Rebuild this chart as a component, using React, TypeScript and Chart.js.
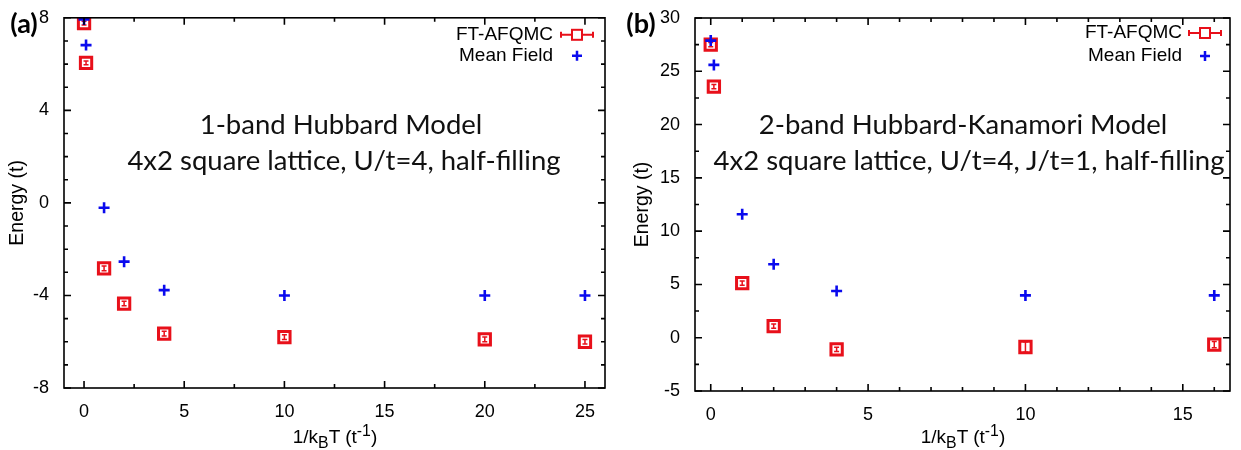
import React, { useEffect, useRef } from "react";
import { Chart, registerables } from "chart.js";
Chart.register(...registerables);

// ---------- Panel (a): 1-band Hubbard model ----------
const betaA = [0, 0.1, 1, 2, 4, 10, 20, 25];
const afqmcA = [7.77, 6.05, -2.83, -4.35, -5.65, -5.8, -5.9, -6.0];
const afqmcErrA = [0.08, 0.08, 0.1, 0.1, 0.1, 0.1, 0.1, 0.1];
const meanFieldA = [7.93, 6.82, -0.21, -2.54, -3.77, -4.0, -4.0, -4.0];
const xTicksA = [0, 5, 10, 15, 20, 25];
const yTicksA = [-8, -4, 0, 4, 8];

// ---------- Panel (b): 2-band Hubbard-Kanamori model ----------
const betaB = [0, 0.1, 1, 2, 4, 10, 16];
const afqmcB = [27.5, 23.56, 5.12, 1.09, -1.09, -0.87, -0.65];
const afqmcErrB = [0.2, 0.2, 0.2, 0.2, 0.2, 0.5, 0.3];
const meanFieldB = [27.88, 25.6, 11.58, 6.9, 4.38, 3.97, 3.97];
const xTicksB = [0, 5, 10, 15];
const yTicksB = [-5, 0, 5, 10, 15, 20, 25, 30];

const seriesNames = ["FT-AFQMC", "Mean Field"];
const RED = "#e8101a";
const BLUE = "#0a0aee";
const AXIS_FONT = "'Liberation Sans', Arial, sans-serif";
const NOTE_FONT = "Lato, 'Open Sans', sans-serif";

const framePlugin = {
  id: "frame",
  afterDraw(chart: any, _args: any, opts: any) {
    const { ctx, chartArea: a, scales } = chart;
    const x = scales.x;
    const y = scales.y;
    ctx.save();
    ctx.strokeStyle = "#000";
    ctx.lineWidth = 1.6;
    const drawTicks = (axis: any, step: number, majors: number[], horiz: boolean) => {
      const start = Math.ceil(axis.min / step) * step;
      for (let v = start; v <= axis.max + 1e-9; v += step) {
        const isMajor = majors.some((m) => Math.abs(m - v) < 1e-6);
        const len = isMajor ? 7 : 4;
        const p = axis.getPixelForValue(v);
        ctx.beginPath();
        if (horiz) {
          ctx.moveTo(p, a.bottom);
          ctx.lineTo(p, a.bottom - len);
          ctx.moveTo(p, a.top);
          ctx.lineTo(p, a.top + len);
        } else {
          ctx.moveTo(a.left, p);
          ctx.lineTo(a.left + len, p);
          ctx.moveTo(a.right, p);
          ctx.lineTo(a.right - len, p);
        }
        ctx.stroke();
      }
    };
    drawTicks(x, opts.xMinor, opts.xMajor, true);
    drawTicks(y, opts.yMinor, opts.yMajor, false);
    ctx.strokeRect(a.left, a.top, a.right - a.left, a.bottom - a.top);
    ctx.restore();
  },
};

const errorBarPlugin = {
  id: "errbars",
  beforeDatasetsDraw(chart: any, _args: any, opts: any) {
    const { ctx, scales } = chart;
    const ds = chart.data.datasets[0];
    ctx.save();
    ctx.strokeStyle = RED;
    ctx.lineWidth = 1.5;
    ds.data.forEach((pt: any, i: number) => {
      const e = opts.errors[i];
      const px = scales.x.getPixelForValue(pt.x);
      const y1 = scales.y.getPixelForValue(pt.y - e);
      const y2 = scales.y.getPixelForValue(pt.y + e);
      ctx.beginPath();
      ctx.moveTo(px, y1);
      ctx.lineTo(px, y2);
      ctx.moveTo(px - 2.5, y1);
      ctx.lineTo(px + 2.5, y1);
      ctx.moveTo(px - 2.5, y2);
      ctx.lineTo(px + 2.5, y2);
      ctx.stroke();
    });
    ctx.restore();
  },
};

const legendPlugin = {
  id: "insideLegend",
  afterDraw(chart: any, _args: any, opts: any) {
    const { ctx, chartArea: a } = chart;
    const textRight = a.right - opts.textOffset;
    const sx = a.right - opts.symOffset;
    const y1 = a.top + opts.row1;
    const y2 = a.top + opts.row2;
    ctx.save();
    ctx.font = `19px ${AXIS_FONT}`;
    ctx.fillStyle = "#000";
    ctx.textAlign = "right";
    ctx.textBaseline = "middle";
    ctx.fillText(seriesNames[0], textRight, y1);
    ctx.fillText(seriesNames[1], textRight, y2);
    // FT-AFQMC symbol: horizontal error bar with square
    ctx.strokeStyle = RED;
    ctx.lineWidth = 2;
    ctx.beginPath();
    ctx.moveTo(sx - 16, y1);
    ctx.lineTo(sx + 16, y1);
    ctx.moveTo(sx - 16, y1 - 3);
    ctx.lineTo(sx - 16, y1 + 3);
    ctx.moveTo(sx + 16, y1 - 3);
    ctx.lineTo(sx + 16, y1 + 3);
    ctx.stroke();
    ctx.fillStyle = "#fff";
    ctx.fillRect(sx - 5, y1 - 5, 10, 10);
    ctx.strokeRect(sx - 5, y1 - 5, 10, 10);
    // Mean field symbol
    ctx.strokeStyle = BLUE;
    ctx.lineWidth = 2.5;
    ctx.beginPath();
    ctx.moveTo(sx - 5, y2);
    ctx.lineTo(sx + 5, y2);
    ctx.moveTo(sx, y2 - 5);
    ctx.lineTo(sx, y2 + 5);
    ctx.stroke();
    ctx.restore();
  },
};

type PanelProps = {
  width: number;
  betas: number[];
  afqmc: number[];
  errs: number[];
  mf: number[];
  xTicks: number[];
  yTicks: number[];
  xMin: number;
  xMax: number;
  xMinor: number;
  yMinor: number;
  yAxisWidth: number;
  xAxisHeight: number;
  pad: { top: number; right: number };
  yTitlePad: number;
  legend: { textOffset: number; symOffset: number; row1: number; row2: number };
};

function Panel(p: PanelProps) {
  const ref = useRef<HTMLCanvasElement | null>(null);
  useEffect(() => {
    if (!ref.current) return;
    const chart = new Chart(ref.current, {
      type: "scatter",
      data: {
        datasets: [
          {
            label: seriesNames[0],
            data: p.betas.map((b, i) => ({ x: b, y: p.afqmc[i] })),
            pointStyle: "rect",
            pointRadius: 8,
            pointBorderWidth: 3,
            borderColor: RED,
            backgroundColor: "rgba(0,0,0,0)",
            order: 2,
          },
          {
            label: seriesNames[1],
            data: p.betas.map((b, i) => ({ x: b, y: p.mf[i] })),
            pointStyle: "cross",
            pointRadius: 5.5,
            pointBorderWidth: 2.6,
            borderColor: BLUE,
            backgroundColor: BLUE,
            order: 1,
          },
        ],
      },
      options: {
        animation: false,
        responsive: false,
        devicePixelRatio: 1,
        events: [],
        layout: { padding: { left: 0, top: p.pad.top, right: p.pad.right, bottom: 0 } },
        plugins: {
          legend: { display: false },
          tooltip: { enabled: false },
          frame: { xMinor: p.xMinor, yMinor: p.yMinor, xMajor: p.xTicks, yMajor: p.yTicks },
          errbars: { errors: p.errs },
          insideLegend: p.legend,
        } as any,
        scales: {
          x: {
            type: "linear",
            min: p.xMin,
            max: p.xMax,
            grid: { display: false },
            border: { display: false },
            afterBuildTicks: (s: any) => {
              s.ticks = p.xTicks.map((v) => ({ value: v }));
            },
            afterFit: (s: any) => {
              s.height = p.xAxisHeight;
            },
            ticks: {
              color: "#000",
              padding: 5,
              maxRotation: 0,
              font: { family: AXIS_FONT, size: 18 },
              callback: (v: any) => String(v),
            },
          },
          y: {
            type: "linear",
            min: p.yTicks[0],
            max: p.yTicks[p.yTicks.length - 1],
            grid: { display: false },
            border: { display: false },
            afterBuildTicks: (s: any) => {
              s.ticks = p.yTicks.map((v) => ({ value: v }));
            },
            afterFit: (s: any) => {
              s.width = p.yAxisWidth;
            },
            ticks: {
              color: "#000",
              padding: 7,
              font: { family: AXIS_FONT, size: 18 },
              callback: (v: any) => String(v),
            },
            title: {
              display: true,
              text: "Energy (t)",
              color: "#000",
              font: { family: AXIS_FONT, size: 19.5 },
              padding: { top: p.yTitlePad, bottom: 0 },
            },
          },
        },
      },
      plugins: [framePlugin, errorBarPlugin, legendPlugin],
    } as any);
    return () => chart.destroy();
  }, []);
  return <canvas ref={ref} width={p.width} height={450} style={{ display: "block" }} />;
}

const abs = (left: number, top: number): React.CSSProperties => ({
  position: "absolute",
  left,
  top,
  transform: "translate(-50%, -50%)",
  whiteSpace: "nowrap",
});

export default function App() {
  const noteStyle: React.CSSProperties = { fontFamily: NOTE_FONT, fontSize: 27.5, color: "#111", lineHeight: 1 };
  const xTitleStyle: React.CSSProperties = { fontFamily: AXIS_FONT, fontSize: 19, color: "#000", lineHeight: 1 };
  const tagStyle: React.CSSProperties = { fontFamily: NOTE_FONT, fontSize: 27, fontWeight: 700, color: "#000", lineHeight: 1 };
  return (
    <div style={{ position: "absolute", left: 0, top: 0, width: 1241, height: 450, background: "#fff", overflow: "hidden" }}>
      <div style={{ position: "absolute", left: 0, top: 0 }}>
        <Panel
          width={620}
          betas={betaA}
          afqmc={afqmcA}
          errs={afqmcErrA}
          mf={meanFieldA}
          xTicks={xTicksA}
          yTicks={yTicksA}
          xMin={-1}
          xMax={26}
          xMinor={2.5}
          yMinor={1}
          yAxisWidth={64}
          xAxisHeight={62}
          pad={{ top: 15, right: 15 }}
          yTitlePad={6}
          legend={{ textOffset: 52, symOffset: 28, row1: 17, row2: 38 }}
        />
      </div>
      <div style={{ position: "absolute", left: 620, top: 0 }}>
        <Panel
          width={621}
          betas={betaB}
          afqmc={afqmcB}
          errs={afqmcErrB}
          mf={meanFieldB}
          xTicks={xTicksB}
          yTicks={yTicksB}
          xMin={-0.5}
          xMax={16.5}
          xMinor={1}
          yMinor={2.5}
          yAxisWidth={75}
          xAxisHeight={59}
          pad={{ top: 18, right: 10 }}
          yTitlePad={11}
          legend={{ textOffset: 48, symOffset: 25, row1: 15, row2: 38 }}
        />
      </div>
      <div style={{ ...tagStyle, ...abs(24, 22) }}>(a)</div>
      <div style={{ ...tagStyle, ...abs(641, 22) }}>(b)</div>
      <div style={{ ...noteStyle, ...abs(341, 124) }}>1-band Hubbard Model</div>
      <div style={{ ...noteStyle, ...abs(344, 160) }}>4x2 square lattice, U/t=4, half-filling</div>
      <div style={{ ...noteStyle, ...abs(963, 124) }}>2-band Hubbard-Kanamori Model</div>
      <div style={{ ...noteStyle, ...abs(969, 160) }}>4x2 square lattice, U/t=4, J/t=1, half-filling</div>
      <div style={{ ...xTitleStyle, ...abs(335, 437) }}>
        1/k<sub>B</sub>T (t<sup>-1</sup>)
      </div>
      <div style={{ ...xTitleStyle, ...abs(963, 437) }}>
        1/k<sub>B</sub>T (t<sup>-1</sup>)
      </div>
    </div>
  );
}
